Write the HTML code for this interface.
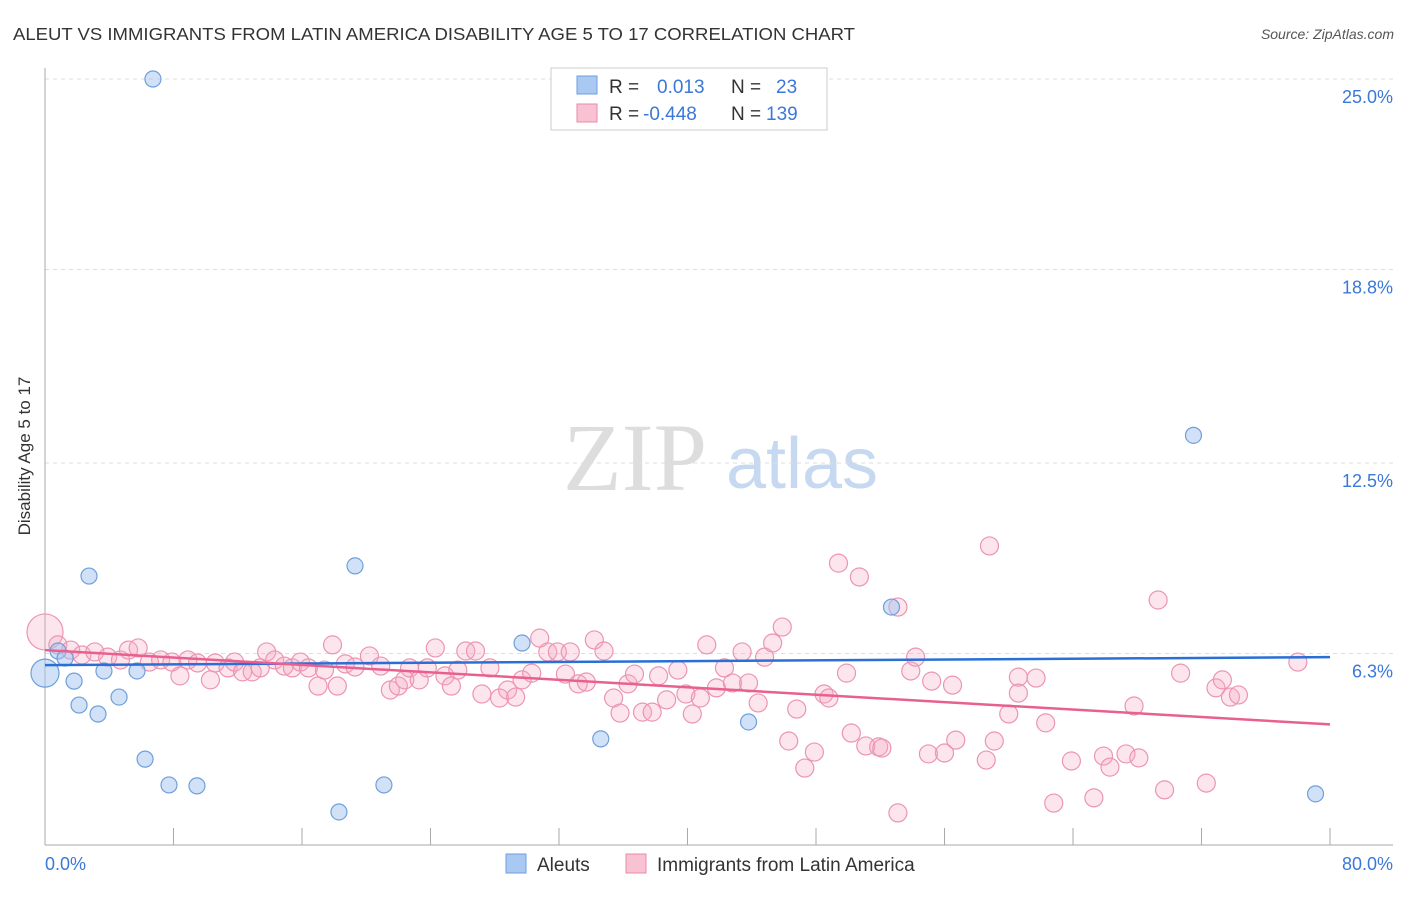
<!DOCTYPE html>
<html><head><meta charset="utf-8"><style>
body{margin:0;background:#fff;font-family:"Liberation Sans",sans-serif;}
</style></head><body>
<svg width="1406" height="892" xmlns="http://www.w3.org/2000/svg" id="svg" font-family="Liberation Sans, sans-serif">
<text x="13" y="40" font-size="17.5" fill="#333" textLength="842" lengthAdjust="spacingAndGlyphs">ALEUT VS IMMIGRANTS FROM LATIN AMERICA DISABILITY AGE 5 TO 17 CORRELATION CHART</text>
<text x="1394" y="39" font-size="14" font-style="italic" fill="#555" text-anchor="end">Source: ZipAtlas.com</text>
<g>
<text x="635" y="490" font-size="96" font-family="Liberation Serif, serif" fill="#ddd" text-anchor="middle">ZIP</text>
<text x="802" y="488" font-size="72" fill="#c7d9f0" text-anchor="middle">atlas</text>
</g>
<g id="grid"></g>
<g id="axes"></g>
<g id="pts"></g>
<g id="lines"></g>
<text x="30" y="456" font-size="17" fill="#333" text-anchor="middle" transform="rotate(-90 30 456)">Disability Age 5 to 17</text>
<text x="45" y="870" font-size="18" fill="#3b78d8">0.0%</text>
<text x="1393" y="870" font-size="18" fill="#3b78d8" text-anchor="end">80.0%</text>
<g>
<rect x="551" y="68" width="276" height="62" fill="#fff" stroke="#ccc"/>
<rect x="577" y="76" width="20" height="18" fill="#a9c8f2" stroke="#6f9fdc"/>
<rect x="577" y="104" width="20" height="18" fill="#f8c2d3" stroke="#e98aa8"/>
<text x="609" y="93" font-size="19" fill="#333">R =</text>
<text x="657" y="93" font-size="19" fill="#3b78d8">0.013</text>
<text x="731" y="93" font-size="19" fill="#333">N =</text>
<text x="776" y="93" font-size="19" fill="#3b78d8">23</text>
<text x="609" y="120" font-size="19" fill="#333">R =</text>
<text x="643" y="120" font-size="19" fill="#3b78d8">-0.448</text>
<text x="731" y="120" font-size="19" fill="#333">N =</text>
<text x="766" y="120" font-size="19" fill="#3b78d8">139</text>
</g>
<g>
<rect x="506" y="854" width="20" height="19" fill="#a9c8f2" stroke="#6f9fdc"/>
<text x="537" y="871" font-size="19" fill="#333">Aleuts</text>
<rect x="626" y="854" width="20" height="19" fill="#f8c2d3" stroke="#e98aa8"/>
<text x="657" y="871" font-size="19" fill="#333">Immigrants from Latin America</text>
</g>
</svg>
<script>
const yTicks=[25.0,18.8,12.5,6.3];
const yTickLabels=["25.0%","18.8%","12.5%","6.3%"];
const xTicks=[0,8,16,24,32,40,48,56,64,72,80];
const blueX=[6.72,71.5,19.3,2.74,52.7,29.7,0.81,1.25,3.67,5.73,0,1.81,2.12,4.61,3.30,43.8,34.6,6.23,7.72,9.46,21.1,18.3,79.1];
const blueY=[25.0,13.4,9.15,8.82,7.81,6.64,6.38,6.15,5.73,5.73,5.66,5.40,4.62,4.88,4.33,4.07,3.52,2.86,2.02,1.99,2.02,1.14,1.73];
const pinkX=[0,0.8,1.6,2.3,3.1,3.9,4.7,5.2,5.8,6.5,7.2,7.9,8.4,8.9,9.5,10.3,10.6,11.4,11.8,12.3,12.9,13.4,13.8,14.3,14.9,15.4,15.9,16.4,17.0,17.4,17.9,18.2,18.7,19.3,20.2,20.9,21.5,22.0,22.4,22.7,23.3,23.8,24.3,24.9,25.3,25.7,26.2,26.8,27.2,27.7,28.3,28.8,29.3,29.7,30.3,30.8,31.3,31.9,32.4,32.7,33.2,33.7,34.2,34.8,35.4,35.8,36.3,36.7,37.2,37.8,38.2,38.7,39.4,39.9,40.3,40.8,41.2,41.8,42.3,42.8,43.4,43.8,44.4,44.8,45.3,45.9,46.3,46.8,47.3,47.9,48.5,48.8,49.4,49.9,50.2,50.7,51.1,51.9,52.1,53.1,53.1,53.9,54.2,55.0,55.2,56.0,56.5,56.7,58.6,58.8,59.1,60.0,60.6,60.6,61.7,62.3,62.8,63.9,65.3,65.9,66.3,67.3,68.1,67.8,69.3,69.7,70.7,72.3,72.9,73.3,73.8,74.3,78.0];
const pinkY=[7.00,6.58,6.41,6.25,6.35,6.18,6.09,6.41,6.48,6.02,6.09,6.02,5.57,6.09,5.99,5.44,5.99,5.83,6.02,5.70,5.70,5.83,6.35,6.09,5.89,5.83,6.02,5.83,5.24,5.76,6.58,5.24,5.96,5.86,6.22,5.89,5.11,5.24,5.44,5.83,5.44,5.83,6.48,5.57,5.24,5.76,6.38,6.38,4.98,5.83,4.85,5.11,4.88,5.44,5.66,6.80,6.35,6.35,5.63,6.35,5.31,5.37,6.74,6.38,4.85,4.36,5.31,5.63,4.39,4.39,5.57,4.79,5.76,4.98,4.33,4.85,6.58,5.18,5.83,5.34,6.35,5.34,4.69,6.18,6.64,7.16,3.45,4.49,2.57,3.09,4.98,4.85,9.24,5.66,3.71,8.79,3.29,3.26,3.22,7.81,1.11,5.73,6.18,3.03,5.40,3.06,5.27,3.48,2.83,9.80,3.45,4.33,5.53,5.01,5.50,4.04,1.43,2.80,1.60,2.96,2.60,3.03,2.90,4.59,8.04,1.86,5.66,2.08,5.18,5.44,4.88,4.95,6.02];
const blueLine=[5.92,6.18];
const pinkLine=[6.41,3.99];
const NS="http://www.w3.org/2000/svg";
const sx=v=>45+v/80*1285;
const sy=v=>847-v*30.72;
function mk(t,a,p){const e=document.createElementNS(NS,t);for(const k in a)e.setAttribute(k,a[k]);p.appendChild(e);return e;}
const grid=document.getElementById('grid'),axes=document.getElementById('axes'),pts=document.getElementById('pts'),lines=document.getElementById('lines');
yTicks.forEach((t,i)=>{
 const l=mk('line',{x1:45,x2:1393,y1:sy(t),y2:sy(t),stroke:'#ddd','stroke-dasharray':'4,4'},grid);
 
 
 const tx=mk('text',{x:1393,y:sy(t)+24,'font-size':18,fill:'#3b78d8','text-anchor':'end'},grid);
 tx.textContent=yTickLabels[i];
 
 
});
const ax=mk('line',{x1:45,x2:45,y1:68,y2:845,stroke:'#aaa'},axes);


const bx=mk('line',{x1:45,x2:1393,y1:845,y2:845,stroke:'#aaa'},axes);


xTicks.forEach(t=>{
 const l=mk('line',{x1:sx(t),x2:sx(t),y1:828,y2:845,stroke:'#aaa'},axes);
 
 
});
pinkX.forEach((x,i)=>{
 const c=mk('circle',{cx:sx(x),cy:sy(pinkY[i]),r:i===0?18:9,fill:'rgba(245,170,195,0.3)',stroke:'#ec95b1','stroke-width':1.2},pts);
 
 
});
blueX.forEach((x,i)=>{
 const c=mk('circle',{cx:sx(x),cy:sy(blueY[i]),r:i===10?14:8,fill:'rgba(164,196,240,0.5)',stroke:'#6f9fdc','stroke-width':1.2},pts);
 
 
});
const bl=mk('line',{x1:sx(0),x2:sx(80),y1:sy(blueLine[0]),y2:sy(blueLine[1]),stroke:'#2a6fd6','stroke-width':2.5},lines);


const pl=mk('line',{x1:sx(0),x2:sx(80),y1:sy(pinkLine[0]),y2:sy(pinkLine[1]),stroke:'#e8608f','stroke-width':2.5},lines);


</script>
</body></html>
